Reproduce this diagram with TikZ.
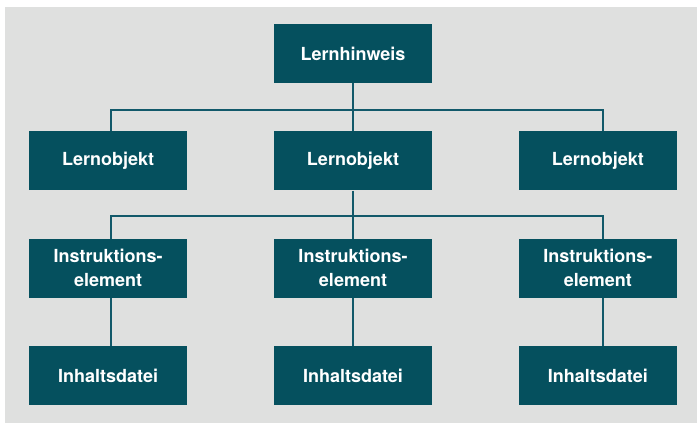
\documentclass[tikz,border=0pt]{standalone}
\usepackage{fontspec}
\setmainfont{TeX Gyre Heros}
\usepackage{tikz}
\usetikzlibrary{positioning}
\definecolor{petrol}{HTML}{05505E}
\definecolor{linie}{HTML}{12596A}
\definecolor{grau}{HTML}{DFE0DF}

\begin{document}
\begin{tikzpicture}[node distance=48pt and 86.5pt,
    box/.style={rectangle, fill=petrol, text=white, minimum width=158pt, minimum height=59pt,
      inner sep=0pt, align=center, font=\fontsize{18}{24}\selectfont\bfseries},
    conn/.style={draw=linie, line width=2pt}]
    \useasboundingbox (0pt,0pt) rectangle (697pt,-423pt);
    \fill [grau] (5pt,-7pt) rectangle (697pt,-423pt);
    % Nodes
    \node [box] at (353pt,-53.5pt) (hint) {Lernhinweis};
    \node [box, below=of hint] (lo2) {Lernobjekt};
    \node [box, left=of lo2] (lo1) {Lernobjekt};
    \node [box, right=of lo2] (lo3) {Lernobjekt};
    \node [box, below=of lo1] (ie1) {Instruktions-\\element};
    \node [box, below=of lo2] (ie2) {Instruktions-\\element};
    \node [box, below=of lo3] (ie3) {Instruktions-\\element};
    \node [box, below=of ie1] (dat1) {Inhaltsdatei};
    \node [box, below=of ie2] (dat2) {Inhaltsdatei};
    \node [box, below=of ie3] (dat3) {Inhaltsdatei};
    \coordinate [below=27pt of hint.south] (bus1);
    \coordinate [below=25pt of lo2.south] (bus2);
    % Connectors
    \draw [conn] (hint) -- (lo2);
    \draw [conn] ([xshift=3pt]lo1.north) |- (bus1) -| ([xshift=5pt]lo3.north);
    \draw [conn] (lo2) -- (ie2);
    \draw [conn] ([xshift=3pt]ie1.north) |- (bus2) -| ([xshift=5pt]ie3.north);
    \draw [conn] ([xshift=3pt]ie1.south) -- ([xshift=3pt]dat1.north);
    \draw [conn] (ie2) -- (dat2);
    \draw [conn] ([xshift=5pt]ie3.south) -- ([xshift=5pt]dat3.north);
  \end{tikzpicture}
\end{document}
